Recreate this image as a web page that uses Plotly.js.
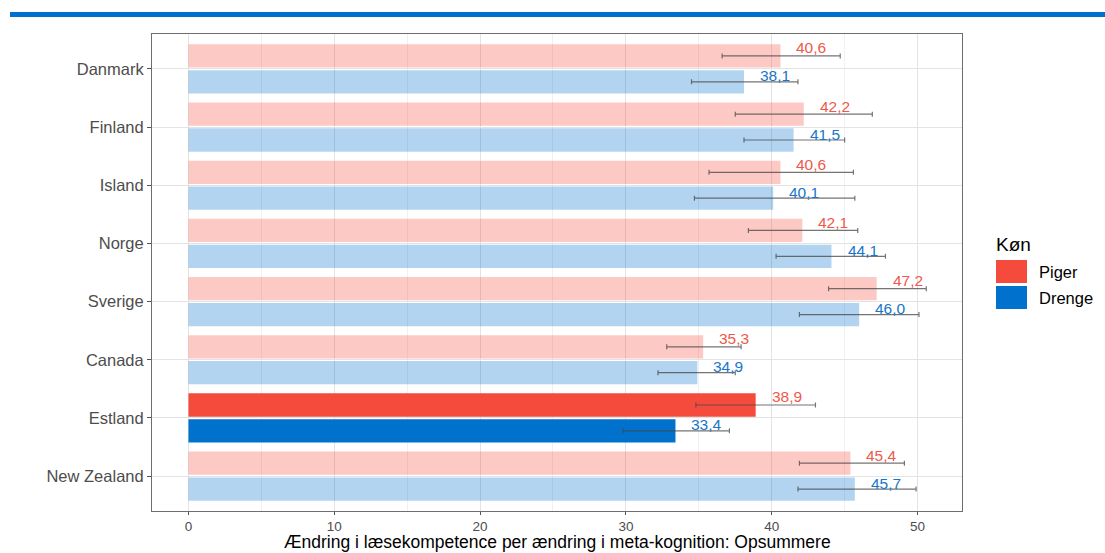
<!DOCTYPE html>
<html>
<head>
<meta charset="utf-8">
<script src="https://cdn.plot.ly/plotly-3.0.1.min.js"></script>
<style>
html,body{margin:0;padding:0;background:#fff;}
#chart{width:1105px;height:553px;}
</style>
</head>
<body>
<div id="chart"></div>
<script>
// ---- data ----
const countries = ['Danmark','Finland','Island','Norge','Sverige','Canada','Estland','New Zealand'];
const seriesNames = ['Piger','Drenge'];
const piger      = [40.6, 42.2, 40.6, 42.1, 47.2, 35.3, 38.9, 45.4];
const drenge     = [38.1, 41.5, 40.1, 44.1, 46.0, 34.9, 33.4, 45.7];
const pigerLow   = [36.6, 37.5, 35.7, 38.4, 43.9, 32.8, 34.8, 41.9];
const pigerHigh  = [44.7, 46.9, 45.6, 45.9, 50.6, 37.9, 43.0, 49.1];
const drengeLow  = [34.5, 38.1, 34.7, 40.3, 41.9, 32.2, 29.8, 41.8];
const drengeHigh = [41.8, 45.0, 45.7, 47.8, 50.1, 37.5, 37.1, 49.9];
const highlight = 'Estland';
const xTitle = 'Ændring i læsekompetence per ændring i meta-kognition: Opsummere';
const legendTitle = 'Køn';

// ---- styling ----
const RED = [244, 75, 60];
const BLUE = [0, 114, 206];
const rgba = (c, a) => `rgba(${c[0]},${c[1]},${c[2]},${a})`;
const FONT = 'Liberation Sans, Arial, sans-serif';

function colorsFor(base) {
  return countries.map(c => c === highlight ? rgba(base, 1) : rgba(base, 0.3));
}
function makeTrace(name, vals, lo, hi, base) {
  return {
    type: 'bar', orientation: 'h', name: name,
    y: countries, x: vals,
    marker: {color: colorsFor(base), line: {width: 0}},
    error_x: {
      type: 'data', symmetric: false,
      array: vals.map((v, i) => hi[i] - v),
      arrayminus: vals.map((v, i) => v - lo[i]),
      color: 'rgba(70,70,70,0.75)', thickness: 1.2, width: 2.5
    },
    hoverinfo: 'x+y', showlegend: false
  };
}
const data = [
  makeTrace(seriesNames[0], piger, pigerLow, pigerHigh, RED),
  makeTrace(seriesNames[1], drenge, drengeLow, drengeHigh, BLUE)
];

const fmt = v => v.toFixed(1).replace('.', ',');
const annotations = [];
countries.forEach((c, i) => {
  annotations.push({x: piger[i], y: c, xref: 'x', yref: 'y', text: fmt(piger[i]),
    showarrow: false, xanchor: 'left', yanchor: 'middle', xshift: 14, yshift: 21,
    font: {family: FONT, size: 15.5, color: 'rgb(240,88,75)'}});
  annotations.push({x: drenge[i], y: c, xref: 'x', yref: 'y', text: fmt(drenge[i]),
    showarrow: false, xanchor: 'left', yanchor: 'middle', xshift: 14, yshift: -7,
    font: {family: FONT, size: 15.5, color: 'rgb(24,118,202)'}});
});

// manual legend and x title (paper coords; plot area 152..962 x 34..511)
const px = p => (p - 152) / 810;
const py = p => (511 - p) / 477;
annotations.push({x: 0.5, y: py(553), xref: 'paper', yref: 'paper', text: xTitle,
  showarrow: false, xanchor: 'center', yanchor: 'bottom', borderpad: 0,
  font: {family: FONT, size: 17.5, color: '#000'}});
annotations.push({x: px(994), y: py(244), xref: 'paper', yref: 'paper', text: legendTitle,
  showarrow: false, xanchor: 'left', yanchor: 'middle', font: {family: FONT, size: 19, color: '#000'}});
annotations.push({x: px(1037), y: py(271.5), xref: 'paper', yref: 'paper', text: seriesNames[0],
  showarrow: false, xanchor: 'left', yanchor: 'middle', font: {family: FONT, size: 16.5, color: '#000'}});
annotations.push({x: px(1037), y: py(297.5), xref: 'paper', yref: 'paper', text: seriesNames[1],
  showarrow: false, xanchor: 'left', yanchor: 'middle', font: {family: FONT, size: 16.5, color: '#000'}});

const shapes = [
  {type: 'rect', xref: 'paper', yref: 'paper', x0: px(996), x1: px(1027), y0: py(283), y1: py(260),
   fillcolor: rgba(RED, 1), line: {width: 0}},
  {type: 'rect', xref: 'paper', yref: 'paper', x0: px(996), x1: px(1027), y0: py(309), y1: py(286),
   fillcolor: rgba(BLUE, 1), line: {width: 0}},
  {type: 'rect', xref: 'paper', yref: 'paper', x0: px(10), x1: px(1105), y0: py(17), y1: py(12),
   fillcolor: '#0072CE', line: {width: 0}}
];

const layout = {
  width: 1105, height: 553,
  margin: {l: 152, r: 143, t: 34, b: 42},
  paper_bgcolor: '#fff', plot_bgcolor: '#fff',
  barmode: 'group', bargap: 0.11, bargroupgap: 0.1,
  font: {family: FONT},
  xaxis: {
    range: [-2.5, 53.05], tickvals: [0, 10, 20, 30, 40, 50], ticktext: ['0','10','20','30','40','50'],
    showgrid: true, gridcolor: '#E3E3E3', gridwidth: 1,
    minor: {tickvals: [5, 15, 25, 35, 45], showgrid: true, gridcolor: '#F0F0F0', gridwidth: 1},
    zeroline: false, showline: true, mirror: true, linecolor: '#6E6E6E', linewidth: 1,
    ticks: 'outside', ticklen: 3, tickcolor: '#555', tickwidth: 1,
    tickfont: {family: FONT, size: 13.5, color: '#4D4D4D'}
  },
  yaxis: {
    type: 'category', range: [7.6, -0.6],
    showgrid: true, gridcolor: '#E3E3E3', gridwidth: 1,
    zeroline: false, showline: true, mirror: true, linecolor: '#6E6E6E', linewidth: 1,
    ticks: 'outside', ticklen: 4, tickcolor: '#555', tickwidth: 1,
    tickfont: {family: FONT, size: 16.5, color: '#4D4D4D'}
  },
  annotations: annotations,
  shapes: shapes,
  showlegend: false
};

Plotly.newPlot('chart', data, layout, {displayModeBar: false, staticPlot: true});
</script>
</body>
</html>
